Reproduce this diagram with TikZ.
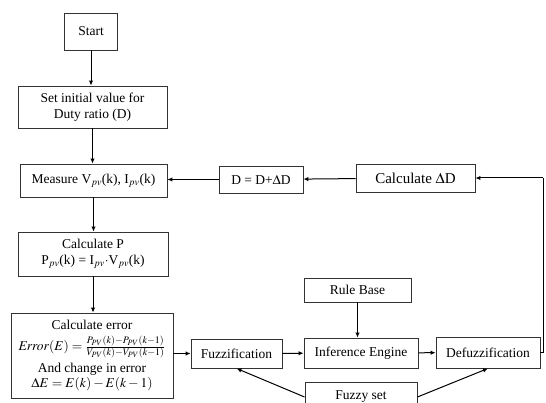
\documentclass[tikz,border=0pt]{standalone}
\usepackage{mathptmx}
\usepackage{fontspec}
\setmainfont{Liberation Serif}
\usetikzlibrary{arrows.meta}
\tikzset{
  box/.style={draw=black!80, line width=0.9pt, fill=white, align=center, inner sep=1pt,
    font=\fontsize{13.5}{16}\selectfont},
  conn/.style={line width=1pt, black, -{Latex[length=5pt,width=4.5pt]}},
  plain/.style={line width=1pt, black}
}
\begin{document}
\begin{tikzpicture}[x=1pt,y=-1pt]
\useasboundingbox (0,0) rectangle (546,403);
\clip (0,0) rectangle (546,403);
\node[box, minimum width=53pt, minimum height=37pt] (start) at (91,31.5) {Start};
\node[box, minimum width=149pt, minimum height=42pt] (init) at (92.5,107) {Set initial value for\\Duty ratio (D)};
\node[box, minimum width=147pt, minimum height=33pt] (measure) at (93.5,180.5) {Measure V$_{pv}$(k), I$_{pv}$(k)};
\node[box, minimum width=150pt, minimum height=44pt] (calcp) at (93,254) {Calculate P\\P$_{pv}$(k) = I$_{pv}$$\cdot$V$_{pv}$(k)};
\node[box, minimum width=162pt, minimum height=85pt, font=\fontsize{13.5}{15.5}\selectfont] (error) at (92,355.5)
  {Calculate error\\[6pt]
   $\mathit{Error}(E)=\frac{P_{PV}(k)-P_{PV}(k-1)}{V_{PV}(k)-V_{PV}(k-1)}$\\[4pt]
   And change in error\\
   $\Delta E = E(k)-E(k-1)$};
\node[box, minimum width=91pt, minimum height=29pt] (fuzz) at (236.5,353.5) {Fuzzification};
\node[box, minimum width=114pt, minimum height=30pt] (infer) at (361,353) {Inference Engine};
\node[box, minimum width=104pt, minimum height=31pt] (defuzz) at (488,352.5) {Defuzzification};
\node[box, minimum width=107pt, minimum height=24pt] (rule) at (357.5,290) {Rule Base};
\node[box, minimum width=112pt, minimum height=30pt] (fset) at (361,397) {Fuzzy set};
\node[box, minimum width=119pt, minimum height=28pt, font=\fontsize{15}{18}\selectfont] (calcd) at (415.5,178) {Calculate $\Delta$D};
\node[box, minimum width=84pt, minimum height=27pt] (dupd) at (261,179.5) {D = D+$\Delta$D};
\coordinate (rtop) at (543,178);
\coordinate (rbot) at (543,352.5);

\draw[conn] (start) -- (start |- init.north);
\draw[conn] (init) -- (init |- measure.north);
\draw[conn] (measure) -- (measure |- calcp.north);
\draw[conn] (calcp) -- (calcp |- error.north);
\draw[conn] (error.east |- fuzz) -- (fuzz.west);
\draw[conn] (fuzz) -- (infer);
\draw[conn] (infer) -- (defuzz);
\draw[conn] (rule) -- (rule |- infer.north);
\draw[conn] (fset.west) -- (fuzz.south);
\draw[conn] (fset.east) -- (defuzz.south);
\draw[plain] (defuzz.east) -- (rbot) -- (rtop);
\draw[conn] (rtop) -- (calcd.east);
\draw[conn] (calcd) -- (dupd);
\draw[conn] (dupd.west) -- (measure.east |- dupd);
\end{tikzpicture}
\end{document}
